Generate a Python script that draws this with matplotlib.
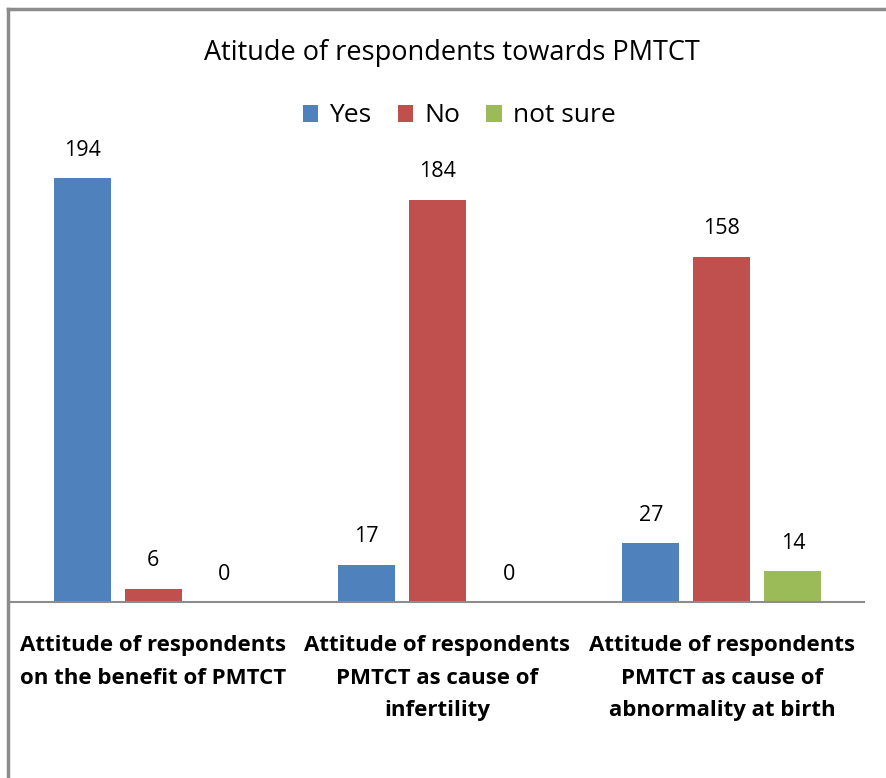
import numpy as np
import matplotlib.pyplot as plt

categories = ['Attitude of respondents\non the benefit of PMTCT',
              'Attitude of respondents\nPMTCT as cause of\ninfertility',
              'Attitude of respondents\nPMTCT as cause of\nabnormality at birth']
series = ['Yes', 'No', 'not sure']
yes = [194, 17, 27]
no = [6, 184, 158]
not_sure = [0, 0, 14]
colors = ['#4F81BD', '#C0504D', '#9BBB59']

plt.rcParams['font.family'] = ['Open Sans', 'DejaVu Sans']

fig = plt.figure(figsize=(8.87, 7.78), dpi=100)
# outer chart border (only left and top visible in the crop)
fig.add_artist(plt.Line2D([8/887, 8/887], [0, 1 - 9/778], color='#8c8c8c', lw=2.5))
fig.add_artist(plt.Line2D([8/887, 1], [1 - 9/778, 1 - 9/778], color='#8c8c8c', lw=2.5))

ax = fig.add_axes([11/887, 176/778, 853/887, 437/778])
x = np.arange(len(categories))
w = 0.2
for i, (vals, name) in enumerate(zip([yes, no, not_sure], series)):
    pos = x + (i - 1) * 0.25
    ax.bar(pos, vals, width=w, color=colors[i], label=name)
    for p, v in zip(pos, vals):
        ax.text(p, v + 8, str(v), ha='center', va='bottom', fontsize=15.5)

ax.set_xlim(-0.5, 2.5)
ax.set_ylim(0, 200)
for s in ['top', 'right', 'left']:
    ax.spines[s].set_visible(False)
ax.spines['bottom'].set_color('#8c8c8c')
ax.spines['bottom'].set_linewidth(1.5)
ax.set_yticks([])
ax.set_xticks(x)
ax.set_xticklabels(categories, fontsize=16, fontweight='bold', linespacing=1.7)
ax.tick_params(axis='x', length=0, pad=24)

fig.text(452/887, 1 - 53/778, 'Atitude of respondents towards PMTCT', ha='center', va='center', fontsize=19.5)
fig.legend(loc='center', bbox_to_anchor=(459/887, 1 - 116/778), ncol=3, frameon=False,
           fontsize=19, handlelength=0.6, handleheight=0.6, handletextpad=0.4, columnspacing=1.0)

fig.savefig('out.png', dpi=100)
